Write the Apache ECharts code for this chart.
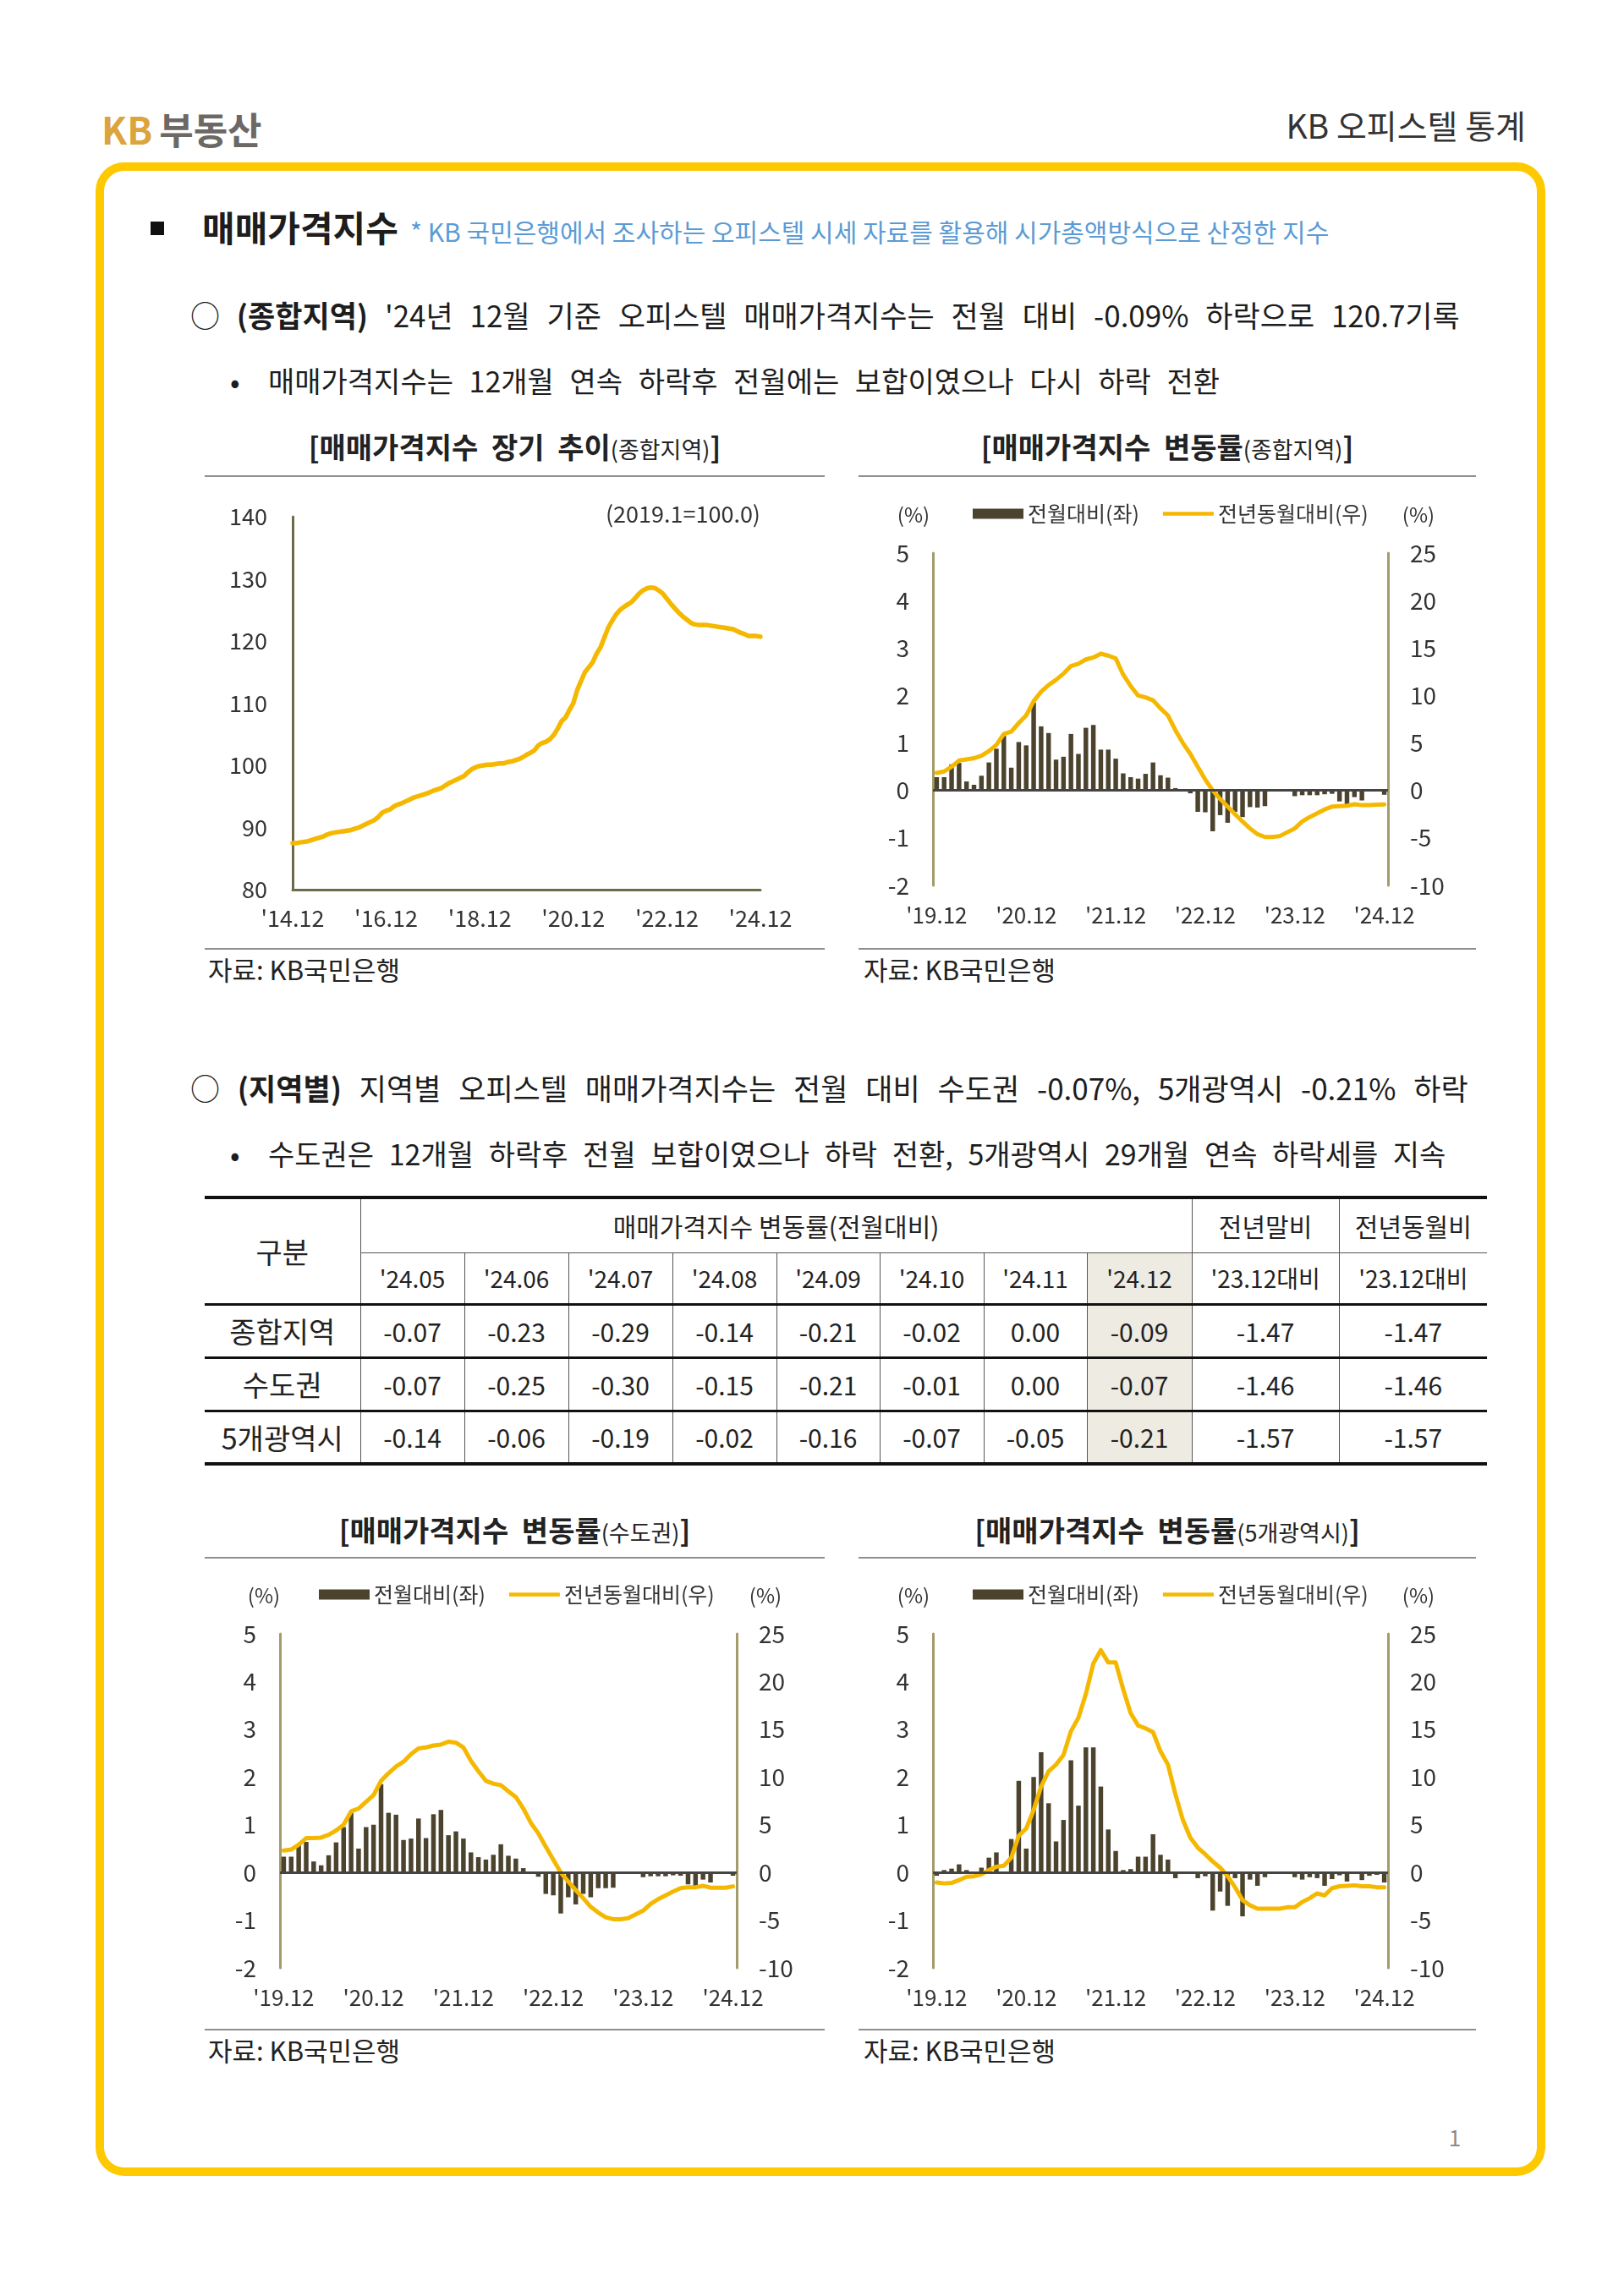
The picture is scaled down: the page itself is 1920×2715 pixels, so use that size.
<!DOCTYPE html>
<html><head><meta charset="utf-8">
<script src="https://cdn.jsdelivr.net/npm/echarts@6/dist/echarts.min.js"></script>
<style>
html,body{margin:0;padding:0;background:#fff;}
body{width:1920px;height:2715px;position:relative;overflow:hidden;font-family:"Noto Sans CJK KR","Noto Sans",sans-serif;color:#1d1d1d;}
.abs{position:absolute;white-space:nowrap;}
#box{position:absolute;left:113px;top:192px;width:1714px;height:2381px;border:10px solid #ffc900;border-radius:34px;box-sizing:border-box;}
.ln{font-size:35px;line-height:50px;}
.sub{font-size:34px;line-height:50px;}
.ctitle{position:absolute;text-align:center;font-size:34px;line-height:48px;font-weight:bold;color:#222;white-space:nowrap;word-spacing:8px;}
.ctitle span{font-size:27px;font-weight:normal;word-spacing:0;}
.rule{position:absolute;height:0;border-top:2px solid #8f8f8f;}
.src{position:absolute;font-size:31px;line-height:36px;color:#222;white-space:nowrap;}
.chart{position:absolute;}
table{position:absolute;left:242px;top:1414px;width:1516px;border-collapse:collapse;table-layout:fixed;font-size:30px;color:#222;}
td{text-align:center;padding:0;border-left:1.5px solid #555;border-right:1.5px solid #555;}
td.first{border-left:none;}
td.last{border-right:none;}
td.rh{font-size:34px;}
td.mo{font-size:28px;}
tr.h1 td{border-top:4px solid #111;}
td.hl{background:#eeebe2;}
</style></head><body>

<div class="abs" style="left:120px;top:122px;font-size:44px;line-height:60px;font-weight:bold;"><span style="color:#dca43c">KB</span><span style="color:#6b6866;margin-left:8px;">부동산</span></div>
<div class="abs" style="right:116px;top:121px;font-size:39px;line-height:52px;color:#333;">KB 오피스텔 통계</div>
<div id="box"></div>

<div class="abs" style="left:178px;top:262px;width:16px;height:16px;background:#111;"></div>
<div class="abs" style="left:239px;top:238px;font-size:42px;line-height:60px;font-weight:bold;">매매가격지수</div>
<div class="abs" style="left:485px;top:252px;font-size:30px;line-height:42px;color:#5b9bd5;">* KB 국민은행에서 조사하는 오피스텔 시세 자료를 활용해 시가총액방식으로 산정한 지수</div>

<div class="abs ln" style="left:225px;top:347px;word-spacing:12px;">○ <b>(종합지역)</b> '24년 12월 기준 오피스텔 매매가격지수는 전월 대비 -0.09% 하락으로 120.7기록</div>
<div class="abs sub" style="left:272px;top:425px;">•</div>
<div class="abs sub" style="left:317px;top:425px;word-spacing:11px;">매매가격지수는 12개월 연속 하락후 전월에는 보합이였으나 다시 하락 전환</div>

<div class="ctitle" style="left:242px;width:733px;top:504px;">[매매가격지수 장기 추이<span>(종합지역)</span>]</div>
<div class="ctitle" style="left:1015px;width:730px;top:504px;">[매매가격지수 변동률<span>(종합지역)</span>]</div>
<div class="rule" style="left:242px;width:733px;top:562px;"></div>
<div class="rule" style="left:1015px;width:730px;top:562px;"></div>
<div id="c1" class="chart" style="left:242px;top:575px;width:740px;height:545px;"></div>
<div id="c2" class="chart" style="left:1015px;top:575px;width:740px;height:545px;"></div>
<div class="rule" style="left:242px;width:733px;top:1121px;"></div>
<div class="rule" style="left:1015px;width:730px;top:1121px;"></div>
<div class="src" style="left:246px;top:1128px;">자료: KB국민은행</div>
<div class="src" style="left:1021px;top:1128px;">자료: KB국민은행</div>

<div class="abs ln" style="left:225px;top:1261px;word-spacing:13px;">○ <b>(지역별)</b> 지역별 오피스텔 매매가격지수는 전월 대비 수도권 -0.07%, 5개광역시 -0.21% 하락</div>
<div class="abs sub" style="left:272px;top:1339px;">•</div>
<div class="abs sub" style="left:317px;top:1339px;word-spacing:10px;">수도권은 12개월 하락후 전월 보합이였으나 하락 전환, 5개광역시 29개월 연속 하락세를 지속</div>

<table id="tbl"></table>

<div class="ctitle" style="left:242px;width:733px;top:1785px;">[매매가격지수 변동률<span>(수도권)</span>]</div>
<div class="ctitle" style="left:1015px;width:730px;top:1785px;">[매매가격지수 변동률<span>(5개광역시)</span>]</div>
<div class="rule" style="left:242px;width:733px;top:1841px;"></div>
<div class="rule" style="left:1015px;width:730px;top:1841px;"></div>
<div id="c3" class="chart" style="left:242px;top:1855px;width:740px;height:545px;"></div>
<div id="c4" class="chart" style="left:1015px;top:1855px;width:740px;height:545px;"></div>
<div class="rule" style="left:242px;width:733px;top:2399px;"></div>
<div class="rule" style="left:1015px;width:730px;top:2399px;"></div>
<div class="src" style="left:246px;top:2406px;">자료: KB국민은행</div>
<div class="src" style="left:1021px;top:2406px;">자료: KB국민은행</div>

<div class="abs" style="left:1700px;width:40px;text-align:center;top:2512px;font-size:26px;line-height:30px;color:#8a8a8a;">1</div>

<script>
const FONT = '"Noto Sans CJK KR","Noto Sans",sans-serif';

// ---- data ----
// 매매가격지수 (종합지역), monthly '14.12 ~ '24.12, 2019.1=100
const indexTotal = [
  87.5, 87.5, 87.6, 87.7, 87.8, 88.0, 88.2, 88.4, 88.6, 88.9, 89.1, 89.2, 89.3,
  89.4, 89.5, 89.6, 89.8, 90.0, 90.3, 90.6, 90.9, 91.2, 91.7, 92.4, 92.7,
  92.9, 93.4, 93.7, 93.9, 94.2, 94.5, 94.8, 95.0, 95.2, 95.4, 95.6, 95.9,
  96.1, 96.3, 96.7, 97.1, 97.4, 97.7, 98.0, 98.3, 98.9, 99.4, 99.7, 99.9,
  100.0, 100.1, 100.1, 100.2, 100.3, 100.3, 100.5, 100.6, 100.8, 101.0, 101.3, 101.7,
  102.0, 102.4, 103.2, 103.6, 103.8, 104.2, 104.9, 105.9, 107.1, 107.7, 108.9, 110.0,
  112.1, 113.6, 115.0, 115.8, 116.6, 118.0, 119.0, 120.6, 122.2, 123.3, 124.3, 125.0,
  125.5, 125.9, 126.3, 127.0, 127.7, 128.2, 128.5, 128.6, 128.5, 128.1, 127.6, 126.8,
  126.0, 125.3, 124.6, 124.0, 123.5, 123.0, 122.7, 122.6, 122.6, 122.6, 122.5, 122.4,
  122.3, 122.2, 122.1, 122.0, 121.9, 121.6, 121.3, 121.1, 120.8, 120.8, 120.8, 120.7
];
// monthly '19.12 ~ '24.12
const momTotal = [
  0.28,0.28,0.55,0.58,0.19,0.12,0.31,0.59,0.88,1.15,
  0.48,1.02,0.95,1.85,1.35,1.21,0.65,0.71,1.19,0.77,
  1.32,1.38,0.86,0.86,0.67,0.36,0.28,0.25,0.35,0.59,
  0.32,0.27,0.05,0.00,-0.06,-0.45,-0.46,-0.86,-0.52,-0.68,
  -0.45,-0.56,-0.35,-0.36,-0.33,-0.01,-0.02,-0.01,-0.12,-0.10,
  -0.10,-0.10,-0.08,-0.07,-0.23,-0.29,-0.14,-0.21,-0.02,0.00,-0.09
];
const yoyTotal = [
  1.85,2.0,2.5,3.15,3.27,3.4,3.65,4.15,4.8,5.96,
  6.2,7.1,7.9,9.4,10.4,11.1,11.65,12.3,13.1,13.35,
  13.8,14.0,14.4,14.2,13.9,12.2,11.0,10.0,9.8,9.5,
  8.65,7.9,6.35,5.0,3.85,2.5,1.15,0.0,-0.9,-1.7,
  -2.5,-3.27,-4.0,-4.6,-4.9,-4.9,-4.8,-4.4,-4.0,-3.27,
  -2.8,-2.4,-2.0,-1.7,-1.65,-1.6,-1.45,-1.55,-1.55,-1.5,-1.47
];
const momCapital = [
  0.33,0.33,0.58,0.64,0.23,0.15,0.36,0.63,0.95,1.25,
  0.50,0.95,1.00,1.85,1.25,1.21,0.68,0.71,1.13,0.72,
  1.22,1.31,0.78,0.86,0.71,0.42,0.32,0.27,0.37,0.59,
  0.35,0.29,0.09,0.01,-0.09,-0.45,-0.48,-0.86,-0.52,-0.67,
  -0.45,-0.52,-0.33,-0.33,-0.32,-0.01,-0.02,-0.01,-0.10,-0.08,
  -0.08,-0.08,-0.06,-0.07,-0.25,-0.30,-0.15,-0.21,-0.01,0.00,-0.07
];
const yoyCapital = [
  2.3,2.4,2.9,3.6,3.6,3.65,3.95,4.4,5.0,6.4,
  6.7,7.4,8.1,9.6,10.4,11.1,11.6,12.4,13.0,13.1,
  13.3,13.4,13.7,13.6,13.1,11.7,10.6,9.6,9.3,9.15,
  8.5,7.9,6.7,5.2,4.1,2.7,1.35,0.0,-0.96,-1.85,
  -2.7,-3.6,-4.2,-4.7,-4.9,-4.9,-4.8,-4.4,-4.0,-3.3,
  -2.8,-2.4,-2.0,-1.65,-1.55,-1.55,-1.4,-1.6,-1.6,-1.6,-1.46
];
const momMetro = [
  -0.07,0.05,0.08,0.17,0.05,0.01,0.10,0.31,0.42,0.02,
  0.70,1.92,0.50,2.00,2.52,1.45,0.65,1.10,2.35,1.40,
  2.62,2.62,1.80,0.90,0.45,0.05,0.07,0.33,0.33,0.80,
  0.37,0.27,-0.12,0.00,0.00,-0.12,-0.08,-0.80,-0.40,-0.70,
  -0.12,-0.92,-0.15,-0.28,-0.10,0.00,-0.02,0.00,-0.10,-0.15,
  -0.10,-0.12,-0.28,-0.14,-0.06,-0.19,-0.02,-0.16,-0.07,-0.05,-0.21
];
const yoyMetro = [
  -1.05,-1.15,-1.1,-0.8,-0.45,-0.4,-0.2,0.25,0.6,0.7,
  1.55,3.85,4.6,6.55,9.0,10.6,11.3,12.3,14.8,16.2,
  18.7,21.9,23.3,22.0,22.0,19.2,16.7,15.4,15.1,14.7,
  12.7,11.3,8.2,5.5,3.65,2.6,1.9,1.15,0.5,-0.4,
  -1.55,-2.9,-3.45,-3.8,-3.8,-3.8,-3.8,-3.65,-3.65,-3.1,
  -2.7,-2.2,-2.4,-1.65,-1.45,-1.4,-1.35,-1.45,-1.45,-1.55,-1.57
];
// table
const tableMonths = ["'24.05","'24.06","'24.07","'24.08","'24.09","'24.10","'24.11","'24.12"];
const tableRegions = ['종합지역','수도권','5개광역시'];
const tableMoM = [
  [-0.07,-0.23,-0.29,-0.14,-0.21,-0.02,0.00,-0.09],
  [-0.07,-0.25,-0.30,-0.15,-0.21,-0.01,0.00,-0.07],
  [-0.14,-0.06,-0.19,-0.02,-0.16,-0.07,-0.05,-0.21]
];
const tableYtd = [-1.47,-1.46,-1.57];
const tableYoy = [-1.47,-1.46,-1.57];
const seriesNames = ['전월대비(좌)','전년동월대비(우)'];

function monthCats(y0, m0, n){
  const out = [];
  for (let k = 0; k < n; k++){
    const t = y0*12 + (m0-1) + k;
    const y = Math.floor(t/12) % 100, m = t % 12 + 1;
    out.push("'" + String(y).padStart(2,'0') + '.' + String(m).padStart(2,'0'));
  }
  return out;
}
const cats1 = monthCats(2014, 12, indexTotal.length);
const catsR = monthCats(2019, 12, momTotal.length);

// ---- table ----
(function(){
  const fmt = v => v.toFixed(2);
  const w = [184,123,123,123,123,122,123,122,124,174,175];
  let h = '<colgroup>' + w.map(x=>'<col style="width:'+x+'px">').join('') + '</colgroup>';
  h += '<tr class="h1" style="height:65px"><td class="first rh" rowspan="2" style="border-bottom:3px solid #111">구분</td>' +
       '<td colspan="8" style="border-bottom:1.5px solid #555">매매가격지수 변동률(전월대비)</td>' +
       '<td style="border-bottom:1.5px solid #555">전년말비</td><td class="last" style="border-bottom:1.5px solid #555">전년동월비</td></tr>';
  h += '<tr style="height:61px">' + tableMonths.map((m,i)=>'<td class="mo'+(i===7?' hl':'')+'" style="border-bottom:3px solid #111">'+m+'</td>').join('') +
       "<td class=\"mo\" style=\"border-bottom:3px solid #111\">'23.12대비</td><td class=\"mo last\" style=\"border-bottom:3px solid #111\">'23.12대비</td></tr>";
  tableRegions.forEach((r,ri)=>{
    const bb = ri === tableRegions.length-1 ? '4px solid #111' : '3px solid #111';
    h += '<tr style="height:63px"><td class="first rh" style="border-bottom:'+bb+'">'+r+'</td>' +
      tableMoM[ri].map((v,i)=>'<td'+(i===7?' class="hl"':'')+' style="border-bottom:'+bb+'">'+fmt(v)+'</td>').join('') +
      '<td style="border-bottom:'+bb+'">'+fmt(tableYtd[ri])+'</td><td class="last" style="border-bottom:'+bb+'">'+fmt(tableYoy[ri])+'</td></tr>';
  });
  document.getElementById('tbl').innerHTML = h;
})();

// ---- chart 1 ----
const c1 = echarts.init(document.getElementById('c1'));
c1.setOption({
  animation:false,
  grid:{left:104,right:83,top:36,bottom:68},
  xAxis:{type:'category',data:cats1,boundaryGap:false,
    axisLine:{lineStyle:{color:'#6f6a48',width:3}},axisTick:{show:false},
    axisLabel:{interval:23,color:'#333',fontSize:27,fontFamily:FONT,margin:20}},
  yAxis:{type:'value',min:80,max:140,interval:10,
    axisLine:{show:true,lineStyle:{color:'#6f6a48',width:3}},axisTick:{show:false},splitLine:{show:false},
    axisLabel:{color:'#333',fontSize:27,fontFamily:FONT,margin:30}},
  series:[{type:'line',data:indexTotal,symbol:'none',lineStyle:{color:'#f5b800',width:5.5,join:'round',cap:'round'}}],
  graphic:[{type:'text',right:83,top:19,style:{text:'(2019.1=100.0)',fill:'#333',fontSize:27,fontFamily:FONT}}]
});

// ---- rate charts ----
function rateChart(id, mom, yoy, g, legendTop, pctL, pctR){
  const ch = echarts.init(document.getElementById(id));
  ch.setOption({
    animation:false,
    grid:g,
    legend:{left:135,top:legendTop,padding:0,itemGap:28,itemWidth:60,itemHeight:12,selectedMode:false,symbolKeepAspect:true,
      textStyle:{color:'#333',fontSize:25,fontFamily:FONT},
      data:[
        {name:seriesNames[0],icon:'rect'},
        {name:seriesNames[1],icon:'path://M0,0L60,0L60,4.5L0,4.5Z',itemStyle:{color:'#f5b800'}}
      ]},
    xAxis:{type:'category',data:catsR,axisLine:{show:false,onZero:false},axisTick:{show:false},
      axisLabel:{interval:11,color:'#333',fontSize:26,fontFamily:FONT,margin:22}},
    yAxis:[
      {type:'value',min:-2,max:5,interval:1,position:'left',
        axisLine:{show:true,lineStyle:{color:'#a39b6a',width:3}},axisTick:{show:false},splitLine:{show:false},
        axisLabel:{color:'#333',fontSize:28,fontFamily:FONT,margin:28}},
      {type:'value',min:-10,max:25,interval:5,position:'right',
        axisLine:{show:true,lineStyle:{color:'#a39b6a',width:3}},axisTick:{show:false},splitLine:{show:false},
        axisLabel:{color:'#333',fontSize:28,fontFamily:FONT,margin:26}}
    ],
    series:[
      {name:seriesNames[0],type:'bar',data:mom,yAxisIndex:0,barWidth:'62%',itemStyle:{color:'#4b432e'},
        markLine:{silent:true,symbol:['none','none'],label:{show:false},animation:false,
          lineStyle:{color:'#444',width:3,type:'solid'},data:[{yAxis:0}]}},
      {name:seriesNames[1],type:'line',data:yoy,yAxisIndex:1,symbol:'none',
        lineStyle:{color:'#f5b800',width:5,join:'round',cap:'round'},itemStyle:{color:'#f5b800'}}
    ],
    graphic:[
      {type:'text',x:pctL,y:legendTop+14,style:{text:'(%)',fill:'#333',fontSize:24,fontFamily:FONT,align:'center',verticalAlign:'middle'}},
      {type:'text',x:pctR,y:legendTop+14,style:{text:'(%)',fill:'#333',fontSize:24,fontFamily:FONT,align:'center',verticalAlign:'middle'}}
    ]
  });
}
rateChart('c2', momTotal, yoyTotal, {left:88,right:114,top:79,bottom:73}, 20, 65, 662);
rateChart('c3', momCapital, yoyCapital, {left:89,right:111,top:77,bottom:73}, 18, 70, 663);
rateChart('c4', momMetro, yoyMetro, {left:88,right:114,top:77,bottom:73}, 18, 65, 662);
</script>
</body></html>
